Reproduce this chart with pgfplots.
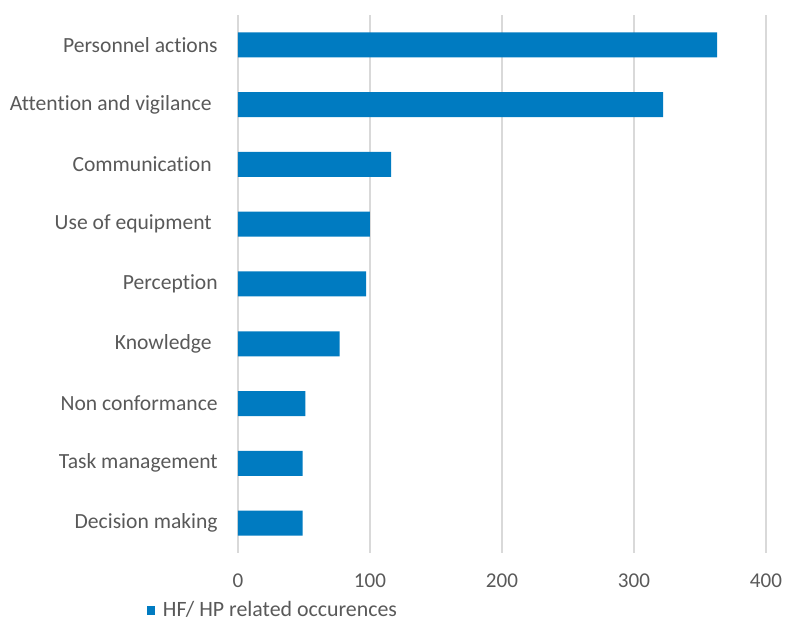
\documentclass[border=0pt]{standalone}
\usepackage{pgfplots}
\pgfplotsset{compat=1.18}
\usepackage{fontspec}
\setmainfont{Carlito}[RawFeature={-liga;-clig;-calt;-dlig;-ccmp}]
\definecolor{barblue}{RGB}{0,123,193}
\definecolor{txtgray}{RGB}{89,89,89}
\definecolor{gridgray}{RGB}{217,217,217}
\begin{document}
\begin{tikzpicture}
\begin{axis}[
  scale only axis,
  width=396pt, height=403.5pt,
  xbar, bar width=18.75pt,
  xmin=0, xmax=400,
  ymin=-0.5, ymax=8.5,
  xtick={0,100,200,300,400},
  ytick={0,1,2,3,4,5,6,7,8},
  yticklabels={Decision making,Task management,Non conformance,Knowledge\hspace*{4.5pt},Perception,Use of equipment\hspace*{4.5pt},Communication\hspace*{4.5pt},Attention and vigilance\hspace*{4.5pt},Personnel actions},
  axis line style={draw=none},
  major tick length=0pt,
  xmajorgrids, grid style={gridgray, line width=0.9pt},
  tick label style={font=\fontsize{15.8pt}{18pt}\selectfont, text=txtgray},
  yticklabel style={font=\fontsize{16.2pt}{19pt}\selectfont},
  /pgf/number format/assume math mode=true,
  xticklabel style={yshift=-12pt},
  yticklabel style={xshift=-11.7pt},
  legend style={at={(rel axis cs:0,0)}, anchor=west, xshift=-68.5pt, yshift=-43pt,
     draw=none, fill=none, inner sep=0pt, font=\fontsize{16.4pt}{19pt}\selectfont, text=txtgray},
  legend image code/.code={\fill[barblue] (0pt,-3.2pt) rectangle (6.4pt,3.2pt); \path (10pt,0pt);},
  clip=false,
]
\addplot[fill=barblue, draw=none] coordinates {
 (49,0) (49,1) (51,2) (77,3) (97,4) (100,5) (116,6) (322,7) (363,8)};
\addlegendentry{HF/ HP related occurences}
\coordinate (sw) at (rel axis cs:0,0);
\coordinate (ne) at (rel axis cs:1,1);
\end{axis}
\pgfresetboundingbox
\path[use as bounding box] ([xshift=-178.5pt,yshift=-51pt]sw) rectangle ([xshift=14.25pt,yshift=11.25pt]ne);
\end{tikzpicture}
\end{document}
